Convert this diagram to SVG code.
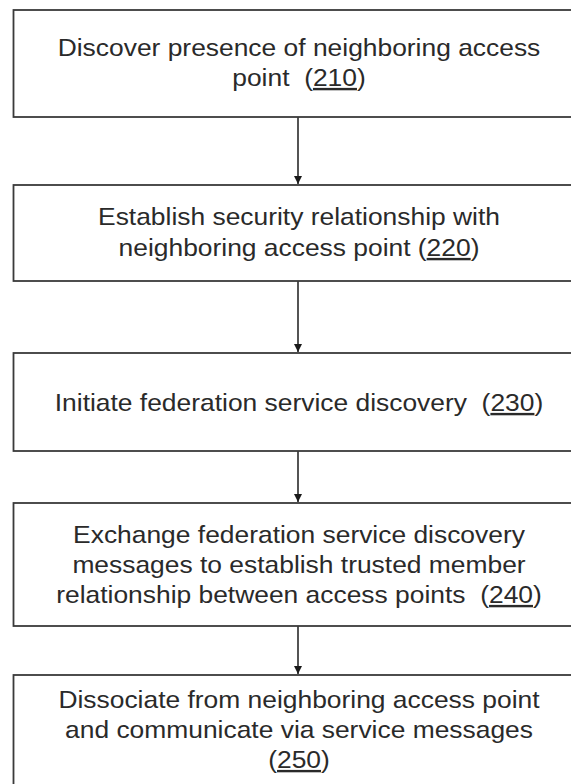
<svg xmlns="http://www.w3.org/2000/svg" width="571" height="784" viewBox="0 0 571 784">
  <style>
    .box { fill: #ffffff; stroke: #3a3a3a; stroke-width: 1.8; }
    .lbl { font-family: "Liberation Sans", Arial, sans-serif; font-size: 24px; fill: #2a2a2a; text-anchor: middle; }
    .ref { text-decoration: underline; }
    .conn { stroke: #2a2a2a; stroke-width: 1.6; fill: none; }
  </style>
  <defs>
    <marker id="arrow" viewBox="0 0 10 12" refX="10" refY="6" markerWidth="6" markerHeight="6" orient="auto" markerUnits="strokeWidth">
      <path d="M0,1 L10,6 L0,11 z" fill="#1a1a1a"/>
    </marker>
  </defs>
  <rect width="571" height="784" fill="#ffffff"/>

  <g id="connectors">
    <line class="conn" x1="298" y1="117" x2="298" y2="184" marker-end="url(#arrow)"/>
    <line class="conn" x1="298" y1="281" x2="298" y2="352" marker-end="url(#arrow)"/>
    <line class="conn" x1="298" y1="451" x2="298" y2="502" marker-end="url(#arrow)"/>
    <line class="conn" x1="298" y1="626" x2="298" y2="674" marker-end="url(#arrow)"/>
  </g>

  <g id="node210">
    <rect class="box" x="13.5" y="10" width="572" height="107"/>
    <g transform="translate(299 0) scale(1.1 1)">
      <text class="lbl" x="0" y="56">Discover presence of neighboring access</text>
      <text class="lbl" x="0" y="86" xml:space="preserve">point  (<tspan class="ref">210</tspan>)</text>
    </g>
  </g>

  <g id="node220">
    <rect class="box" x="13.5" y="185" width="572" height="96"/>
    <g transform="translate(299 0) scale(1.1 1)">
      <text class="lbl" x="0" y="225">Establish security relationship with</text>
      <text class="lbl" x="0" y="256">neighboring access point (<tspan class="ref">220</tspan>)</text>
    </g>
  </g>

  <g id="node230">
    <rect class="box" x="13.5" y="353" width="572" height="98"/>
    <g transform="translate(299 0) scale(1.1 1)">
      <text class="lbl" x="0" y="411" xml:space="preserve">Initiate federation service discovery  (<tspan class="ref">230</tspan>)</text>
    </g>
  </g>

  <g id="node240">
    <rect class="box" x="13.5" y="503" width="572" height="123"/>
    <g transform="translate(299 0) scale(1.1 1)">
      <text class="lbl" x="0" y="543">Exchange federation service discovery</text>
      <text class="lbl" x="0" y="573">messages to establish trusted member</text>
      <text class="lbl" x="0" y="603" xml:space="preserve">relationship between access points  (<tspan class="ref">240</tspan>)</text>
    </g>
  </g>

  <g id="node250">
    <rect class="box" x="13.5" y="675" width="572" height="130"/>
    <g transform="translate(299 0) scale(1.1 1)">
      <text class="lbl" x="0" y="708">Dissociate from neighboring access point</text>
      <text class="lbl" x="0" y="738">and communicate via service messages</text>
      <text class="lbl" x="0" y="768">(<tspan class="ref">250</tspan>)</text>
    </g>
  </g>
</svg>
